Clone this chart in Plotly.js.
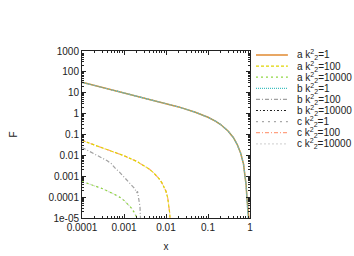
<!DOCTYPE html>
<html><head><meta charset="utf-8">
<script src="https://cdn.plot.ly/plotly-3.0.1.min.js"></script>
<style>html,body{margin:0;padding:0;background:#fff}#c{width:354px;height:256px}</style>
</head><body><div id="c"></div>
<script>
// ---- data ----
const xBig = [1e-4, 2e-4, 5e-4, 1e-3, 2e-3, 5e-3, 0.01, 0.02, 0.05, 0.1, 0.15, 0.2, 0.3, 0.4, 0.5, 0.6, 0.7, 0.77, 0.81, 0.84, 0.87, 0.9, 0.93, 0.96];
const aK1  = [31.6, 22.3, 14.1, 9.96, 7.0, 4.4, 3.05, 2.1, 1.16, 0.67, 0.44, 0.30, 0.148, 0.072, 0.032, 0.0126, 0.0039, 0.001, 3.6e-4, 1.1e-4, 5e-5, 2.5e-5, 1.3e-5, 6e-6];
const bK1  = [31.6, 22.3, 14.1, 9.96, 7.0, 4.4, 3.05, 2.1, 1.16, 0.67, 0.44, 0.30, 0.148, 0.072, 0.032, 0.0126, 0.0039, 0.001, 3.6e-4, 1.1e-4, 3e-5, 8e-6, 3e-6, 1e-6];
const cK1  = [31.6, 22.3, 14.1, 9.96, 7.0, 4.4, 3.05, 2.1, 1.16, 0.67, 0.44, 0.30, 0.148, 0.072, 0.032, 0.0126, 0.0039, 0.001, 3.6e-4, 1.1e-4, 3e-5, 8e-6, 3e-6, 1e-6];

const xMid  = [1e-4, 2e-4, 5e-4, 1e-3, 2e-3, 3e-3, 4e-3, 5e-3, 6e-3, 7e-3, 8e-3, 9e-3, 0.01, 0.011, 0.0118, 0.0123, 0.0127];
const aK100 = [0.052, 0.031, 0.016, 0.0096, 0.0052, 0.0033, 0.0022, 0.0015, 0.00105, 7.2e-4, 4.8e-4, 3.1e-4, 1.9e-4, 9e-5, 4e-5, 1.6e-5, 5e-6];
const cK100 = [0.052, 0.031, 0.016, 0.0096, 0.0052, 0.0033, 0.0022, 0.0015, 0.00105, 7.2e-4, 4.8e-4, 3.1e-4, 1.9e-4, 9e-5, 4e-5, 1.6e-5, 5e-6];

const xLow    = [1e-4, 2e-4, 3e-4, 5e-4, 7.5e-4, 1e-3, 1.2e-3, 1.5e-3, 1.8e-3, 2e-3, 2.2e-3];
const aK10000 = [5.6e-4, 3.6e-4, 2.6e-4, 1.6e-4, 1.07e-4, 7e-5, 5e-5, 3e-5, 1.7e-5, 1.1e-5, 5e-6];
const cK10000 = [5.6e-4, 3.6e-4, 2.6e-4, 1.6e-4, 1.07e-4, 7e-5, 5e-5, 3e-5, 1.7e-5, 1.1e-5, 5e-6];

const xGray  = [1e-4, 1.5e-4, 2e-4, 3e-4, 4e-4, 5e-4, 6e-4, 8e-4, 1e-3, 1.2e-3, 1.4e-3, 1.6e-3, 1.8e-3, 2e-3, 2.1e-3, 2.2e-3, 2.3e-3, 2.4e-3, 2.45e-3, 2.5e-3];
const bK100  = [0.024, 0.016, 0.012, 0.0075, 0.0055, 0.0040, 0.0026, 0.0015, 9e-4, 5.8e-4, 4.5e-4, 3.3e-4, 2.6e-4, 1.6e-4, 1.9e-4, 1.1e-4, 7e-5, 3.5e-5, 1.5e-5, 4e-6];

const xNone   = [];
const bK10000 = [];

const names = ["a k<sup>2</sup><sub>2</sub>=1", "a k<sup>2</sup><sub>2</sub>=100", "a k<sup>2</sup><sub>2</sub>=10000",
               "b k<sup>2</sup><sub>2</sub>=1", "b k<sup>2</sup><sub>2</sub>=100", "b k<sup>2</sup><sub>2</sub>=10000",
               "c k<sup>2</sup><sub>2</sub>=1", "c k<sup>2</sup><sub>2</sub>=100", "c k<sup>2</sup><sub>2</sub>=10000"];
const xTickVals = [1e-4, 1e-3, 1e-2, 1e-1, 1];
const xTickText = ["0.0001", "0.001", "0.01", "0.1", "1"];
const yTickVals = [1e3, 1e2, 1e1, 1, 1e-1, 1e-2, 1e-3, 1e-4, 1e-5];
const yTickText = ["1000", "100", "10", "1", "0.1", "0.01", "0.001", "0.0001", "1e-05"];

// ---- styles ----
const styles = [
  {color:"#e08a30", dash:"solid", width:1.5},
  {color:"#e0d400", dash:"3px,2px", width:1.2},
  {color:"#8fd640", dash:"2px,3px", width:1.2},
  {color:"#3fbfbf", dash:"1px,1px", width:1.2},
  {color:"#a0a0a0", dash:"4px,2px,1px,2px", width:1.2},
  {color:"#202020", dash:"2px,2px,1px,2px", width:1.2},
  {color:"#a8a8a8", dash:"2px,4px", width:1.2},
  {color:"#ffa080", dash:"4px,2px,1px,2px", width:1.2},
  {color:"#d8d8d8", dash:"2px,2px", width:1.2}
];
const seriesX = [xBig, xMid, xLow, xBig, xGray, xNone, xBig, xMid, xLow];
const seriesY = [aK1, aK100, aK10000, bK1, bK100, bK10000, cK1, cK100, cK10000];

const traces = seriesY.map((y, i) => ({
  type: "scatter", mode: "lines", x: seriesX[i], y: y, name: names[i],
  line: {color: styles[i].color, dash: styles[i].dash, width: styles[i].width},
  showlegend: false, hoverinfo: "skip"
}));
// drawing order
const order = [0, 6, 3, 7, 1, 8, 2, 4, 5];
const data = order.map(i => traces[i]);

// ---- layout ----
const W = 354, H = 256;
const M = {l: 81.5, r: 104, t: 51, b: 38};
const pw = W - M.l - M.r, ph = H - M.t - M.b;
const px = p => (p - M.l) / pw;
const py = p => (H - M.b - p) / ph;

const shapes = [], annotations = [];
for (let i = 0; i < 9; i++) {
  const yy = 55 + i * 11.1;
  shapes.push({type: "line", xref: "paper", yref: "paper", x0: px(256), x1: px(288), y0: py(yy), y1: py(yy),
               line: {color: styles[i].color, dash: styles[i].dash, width: styles[i].width}});
  annotations.push({xref: "paper", yref: "paper", x: px(295), y: py(yy), xanchor: "left", yanchor: "middle",
                    text: names[i], showarrow: false, font: {size: 10, color: "#222"}});
}

const axisCommon = {
  type: "log", showline: true, linecolor: "#222", linewidth: 1, mirror: "ticks",
  ticks: "inside", ticklen: 4, tickcolor: "#222", showgrid: false, zeroline: false,
  tickfont: {size: 10, color: "#222"},
  minor: {ticks: "inside", ticklen: 2, tickcolor: "#222", dtick: "D1", showgrid: false}
};

const layout = {
  width: W, height: H, margin: M, paper_bgcolor: "#fff", plot_bgcolor: "#fff",
  font: {family: "Liberation Sans, Arial, sans-serif", size: 10, color: "#222"},
  xaxis: Object.assign({}, axisCommon, {range: [-4, 0], tickvals: xTickVals, ticktext: xTickText,
          title: {text: "x", font: {size: 10}, standoff: 10}}),
  yaxis: Object.assign({}, axisCommon, {range: [-5, 3], tickvals: yTickVals, ticktext: yTickText,
          title: {text: "F", font: {size: 10}, standoff: 28}}),
  shapes: shapes, annotations: annotations, showlegend: false
};

Plotly.newPlot("c", data, layout, {staticPlot: true, displayModeBar: false});
</script></body></html>
